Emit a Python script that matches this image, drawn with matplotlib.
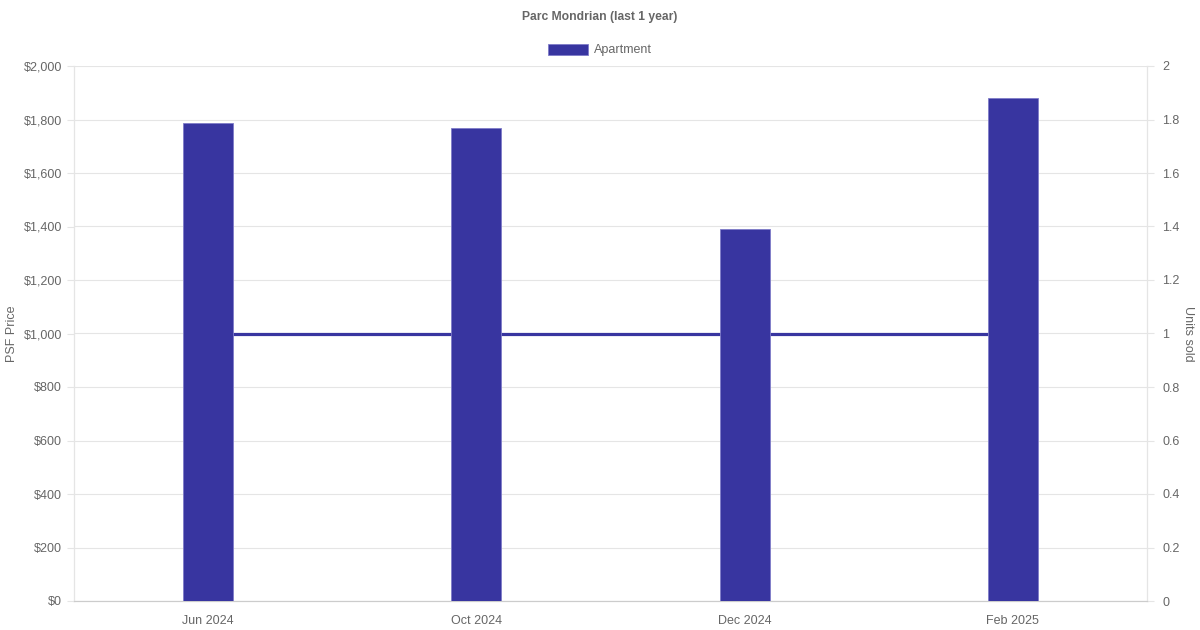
import matplotlib.pyplot as plt
from matplotlib.patches import Patch
from matplotlib.ticker import FuncFormatter, MultipleLocator

plt.rcParams['font.family'] = ['Liberation Sans', 'DejaVu Sans']

# data
months = ['Jun 2024', 'Oct 2024', 'Dec 2024', 'Feb 2025']
psf_price = [1787, 1768, 1391, 1880]
units_sold = [1, 1, 1, 1]

bar_color = '#3835a0'
text_color = '#666666'
grid_color = '#e5e5e5'

fig = plt.figure(figsize=(12, 6.3), dpi=100)
ax = fig.add_axes([74 / 1200, 29 / 630, 1073 / 1200, 535 / 630])
ax2 = ax.twinx()

# line + grid on the secondary axis, drawn underneath the bars
ax.set_zorder(ax2.get_zorder() + 1)
ax.patch.set_visible(False)

x = range(len(months))
ax2.plot(x, units_sold, color=bar_color, lw=2.3, solid_capstyle='butt', zorder=2)
ax2.set_ylim(0, 2)
ax2.yaxis.set_major_locator(MultipleLocator(0.2))
ax2.yaxis.set_major_formatter(FuncFormatter(lambda v, p: f'{v:.1f}'.rstrip('0').rstrip('.') if v else '0'))
ax2.grid(axis='y', color=grid_color, lw=0.8, zorder=0)
ax2.set_ylabel('Units sold', color=text_color, fontsize=9, rotation=-90, labelpad=10)

ax.bar(x, psf_price, width=0.187, color=bar_color, edgecolor='#7f7cc9', lw=0.6, zorder=3)
ax.set_xlim(-0.5, len(months) - 0.5)
ax.set_ylim(0, 2000)
ax.yaxis.set_major_locator(MultipleLocator(200))
ax.yaxis.set_major_formatter(FuncFormatter(lambda v, p: f'${v:,.0f}'))
ax.set_xticks(list(x))
ax.set_xticklabels(months)
ax.set_ylabel('PSF Price', color=text_color, fontsize=9, labelpad=4)

for a in (ax, ax2):
    a.tick_params(colors=text_color, labelsize=9, length=5, width=0.8)
    a.tick_params(axis='y', color=grid_color)
    a.tick_params(axis='x', length=0, pad=10)
    a.spines['top'].set_visible(False)
    a.spines['left'].set_color(grid_color)
    a.spines['right'].set_color(grid_color)
    a.spines['bottom'].set_color('#cccccc')
ax2.tick_params(axis='y', pad=6)

fig.legend(handles=[Patch(facecolor=bar_color, edgecolor='#7f7cc9', lw=0.6, label='Apartment')],
           loc='center', bbox_to_anchor=(0.5, 1 - 50 / 630), frameon=False, fontsize=9,
           labelcolor=text_color, handlelength=3.2, handleheight=1.0, handletextpad=0.5,
           borderpad=0.2)
fig.text(0.5, 1 - 17 / 630, 'Parc Mondrian (last 1 year)', ha='center', va='center',
         fontsize=8.7, fontweight='bold', color=text_color)

fig.savefig('out.png', dpi=100, facecolor='white')
